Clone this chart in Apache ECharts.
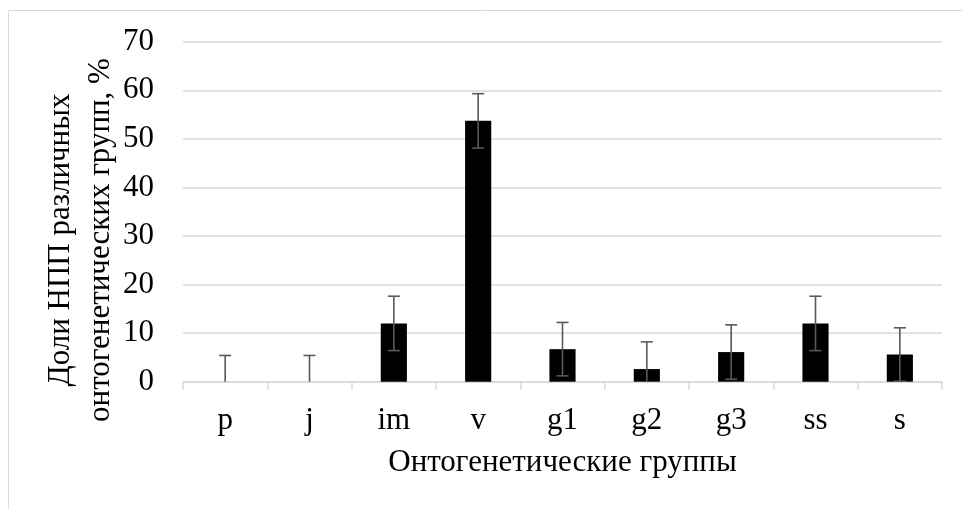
<!DOCTYPE html>
<html>
<head>
<meta charset="utf-8">
<script src="https://cdn.jsdelivr.net/npm/echarts@6/dist/echarts.min.js"></script>
<style>
html,body{margin:0;padding:0;background:#fff;}
#c{width:962px;height:509px;}
</style>
</head>
<body>
<div id="c"></div>
<script>
var categories = ['p', 'j', 'im', 'v', 'g1', 'g2', 'g3', 'ss', 's'];
var shares = [0, 0, 12.0, 53.7, 6.7, 2.6, 6.1, 12.0, 5.6];
var errors = [5.4, 5.4, 5.6, 5.6, 5.5, 5.6, 5.6, 5.6, 5.5];
var yTicks = [0, 10, 20, 30, 40, 50, 60, 70];
var xTitle = 'Онтогенетические группы';
var yTitle = 'Доли НПП различных\nонтогенетических групп, %';

var FONT = '"Liberation Serif", "Times New Roman", serif';
var FS = 31;
var chart = echarts.init(document.getElementById('c'), null, {renderer: 'canvas'});

var errData = categories.map(function (c, i) {
  return [i, Math.max(0, shares[i] - errors[i]), shares[i] + errors[i]];
});

chart.setOption({
  animation: false,
  backgroundColor: '#fff',
  grid: {left: 183, right: 20, top: 41.7, bottom: 127.3, containLabel: false},
  graphic: [
    {type: 'rect', shape: {x: 8.5, y: 10.5, width: 1100, height: 700}, style: {fill: null, stroke: '#d9d9d9', lineWidth: 1}, z: -1},
    {type: 'text', x: 81, y: 240, rotation: Math.PI / 2,
     style: {text: yTitle, font: FS + 'px ' + FONT, fill: '#000', align: 'center', verticalAlign: 'middle', lineHeight: 40}}
  ],
  xAxis: {
    type: 'category',
    data: categories,
    axisLine: {lineStyle: {color: '#d9d9d9', width: 1.5}},
    axisTick: {show: true, length: 8, lineStyle: {color: '#d9d9d9', width: 1.5}},
    axisLabel: {color: '#000', fontFamily: FONT, fontSize: FS, margin: 24},
    name: xTitle,
    nameLocation: 'middle',
    nameGap: 66,
    nameTextStyle: {color: '#000', fontFamily: FONT, fontSize: FS}
  },
  yAxis: {
    type: 'value',
    min: yTicks[0],
    max: yTicks[yTicks.length - 1],
    interval: yTicks[1] - yTicks[0],
    axisLine: {show: false},
    axisTick: {show: false},
    splitLine: {lineStyle: {color: '#d9d9d9', width: 1.5}},
    axisLabel: {color: '#000', fontFamily: FONT, fontSize: FS, margin: 29}
  },
  series: [
    {
      type: 'bar',
      data: shares,
      barWidth: '31%',
      itemStyle: {color: '#000'},
      z: 2
    },
    {
      type: 'custom',
      data: errData,
      z: 3,
      renderItem: function (params, api) {
        var x = api.value(0);
        var lo = api.coord([x, api.value(1)]);
        var hi = api.coord([x, api.value(2)]);
        var half = 6;
        var st = {stroke: '#595959', lineWidth: 1.6};
        var children = [
          {type: 'line', shape: {x1: hi[0], y1: hi[1], x2: lo[0], y2: lo[1]}, style: st},
          {type: 'line', shape: {x1: hi[0] - half, y1: hi[1], x2: hi[0] + half, y2: hi[1]}, style: st}
        ];
        if (api.value(1) > 0) {
          children.push({type: 'line', shape: {x1: lo[0] - half, y1: lo[1], x2: lo[0] + half, y2: lo[1]}, style: st});
        }
        return {type: 'group', children: children};
      }
    }
  ]
});
</script>
</body>
</html>
